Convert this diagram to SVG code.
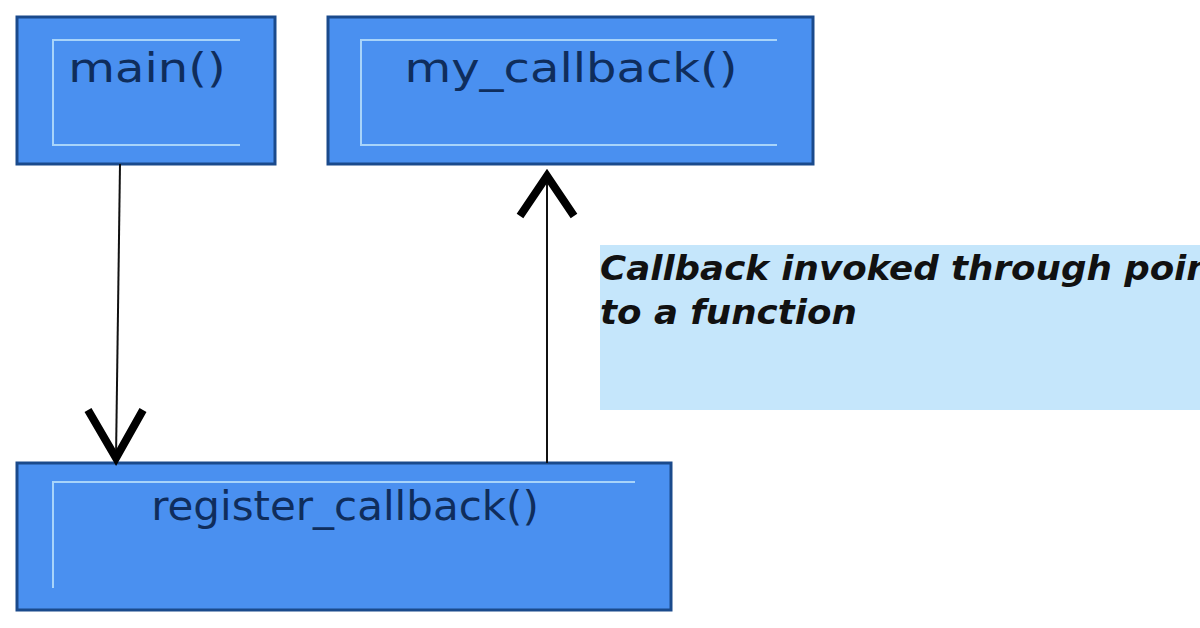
<svg xmlns="http://www.w3.org/2000/svg" width="1200" height="628" viewBox="0 0 1200 628">
<style>
.box{fill:#4a90f0;stroke:#1a4a8c;stroke-width:3}
.inner{fill:none;stroke:#a8d4fa;stroke-width:2}
.lbl{font-family:"DejaVu Sans",sans-serif;font-size:40px;fill:#0f2d5c;text-anchor:middle}
.ln{stroke:#111;stroke-width:2;fill:none}
.hd{stroke:#000;stroke-width:8;fill:none;stroke-linejoin:miter}
.note{font-family:"DejaVu Sans",sans-serif;font-size:33px;font-style:italic;font-weight:600;fill:#111}
</style>
<rect width="1200" height="628" fill="#fff"/>
<g id="main">
<rect class="box" x="17" y="17" width="258" height="147"/>
<path class="inner" d="M240,40 H53 V145 H240"/>
<text class="lbl" transform="translate(147,82) scale(1.2,1)">main()</text>
</g>
<g id="my_callback">
<rect class="box" x="328" y="17" width="485" height="147"/>
<path class="inner" d="M777,40 H361 V145 H777"/>
<text class="lbl" transform="translate(571,82) scale(1.2,1)">my_callback()</text>
</g>
<g id="register_callback">
<rect class="box" x="17" y="463" width="654" height="147"/>
<path class="inner" d="M635,482 H53 V588"/>
<text class="lbl" transform="translate(345,520) scale(1.05,1)">register_callback()</text>
</g>
<g id="note">
<rect x="600" y="245" width="600" height="165" fill="#c5e6fb"/>
<text class="note" transform="translate(600,280) scale(1.08,1)">Callback invoked through pointer</text>
<text class="note" transform="translate(600,324) scale(1.08,1)">to a function</text>
</g>
<g id="connectors">
<line class="ln" x1="120" y1="164" x2="116" y2="458"/>
<polyline class="hd" points="88,410 116,458 143,410"/>
<line class="ln" x1="547" y1="463" x2="547" y2="172"/>
<polyline class="hd" points="520,216 547,176 574,216"/>
</g>
</svg>
